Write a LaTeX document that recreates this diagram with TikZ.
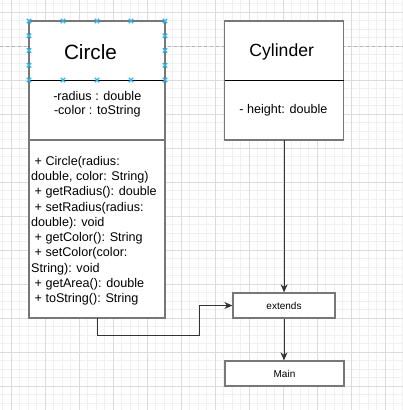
\documentclass[tikz,border=0pt]{standalone}
\usepackage{fontspec}
\setmainfont{Liberation Sans}
\usetikzlibrary{arrows.meta}

\definecolor{gridMinor}{HTML}{F0F0F0}
\definecolor{gridMajor}{HTML}{DCDCDC}
\definecolor{pageBreak}{HTML}{B4B4B4}
\definecolor{outlineGray}{HTML}{777777}
\definecolor{handleBlue}{HTML}{29B6F2}

\newcommand{\pub}{\hspace*{.28em}+ }

\begin{document}
\begin{tikzpicture}[
    x=1pt, y=-1pt,
    minorLine/.style={draw=gridMinor, line width=0.8pt},
    majorLine/.style={draw=gridMajor, line width=0.8pt},
    pageLine/.style={draw=pageBreak, line width=1pt, dash pattern=on 3pt off 3pt},
    classBox/.style={draw=outlineGray, line width=1.6pt, fill=white, outer sep=0pt},
    flowBox/.style={draw=outlineGray, line width=1.3pt, fill=white, minimum height=25pt,
        font=\fontsize{10}{12}\selectfont},
    sepLine/.style={draw=black, line width=0.9pt},
    titleText/.style={inner sep=0pt, anchor=base},
    memberText/.style={inner sep=0pt, font=\fontsize{12.6}{15.3}\selectfont},
    handle/.style={draw=handleBlue, line width=1.2pt},
    link/.style={draw=black!80, line width=1pt, ->, >={Stealth[length=8pt, width=7pt, inset=2.5pt]}},
    every node/.style={
        text centered,
        }
        ]
    \useasboundingbox (0,0) rectangle (403,410);

    % background grid
    \foreach \i in {0,...,47} {
        \draw[minorLine] (2.8+8.5*\i,0) -- ++(0,410);
        \draw[minorLine] (0,3.8+8.5*\i) -- ++(403,0);
    }
    \foreach \i in {0,...,11} {
        \draw[majorLine] (11.3+34*\i,0) -- ++(0,410);
        \draw[majorLine] (0,12.3+34*\i) -- ++(403,0);
    }
    \draw[pageLine] (0,46) -- (403,46);

    % Circle
    \node[classBox, minimum width=136pt, minimum height=119pt] (circle) at (97,80.5) {};
    \node[classBox, minimum width=136pt, minimum height=178pt, anchor=north] (circleMethods) at (circle.south) {};
    \draw[sepLine] ([yshift=-59pt]circle.north west) -- ([yshift=-59pt]circle.north east);

    \node[titleText, font=\fontsize{20.7}{24}\selectfont] (circleName) at (90.5,59.2) {Circle};
    \node[memberText, font=\fontsize{12.6}{14.5}\selectfont, align=center, anchor=north] (circleFields) at (97.3,90.9)
        {-radius : double\\-color : toString};
    \node[memberText, align=left, anchor=north west] (circleOps) at (31,155.8)
        {\pub Circle(radius:\\double, color: String)\\\pub getRadius(): double\\\pub setRadius(radius:\\double): void\\%
         \pub getColor(): String\\\pub setColor(color:\\String): void\\\pub getArea(): double\\\pub toString(): String};

    \foreach \hx in {29,63,97,131,165} {
        \foreach \hy in {21,80}
            \draw[handle] (\hx,\hy) ++(-2.2,-2.2) -- ++(4.4,4.4) (\hx,\hy) ++(-2.2,2.2) -- ++(4.4,-4.4);
    }
    \foreach \hx in {29,165} {
        \foreach \hy in {35.75,50.5,65.25}
            \draw[handle] (\hx,\hy) ++(-2.2,-2.2) -- ++(4.4,4.4) (\hx,\hy) ++(-2.2,2.2) -- ++(4.4,-4.4);
    }

    % Cylinder
    \node[classBox, minimum width=119pt, minimum height=119pt] (cylinder) at (284.1,80.5) {};
    \draw[sepLine] ([yshift=-59pt]cylinder.north west) -- ([yshift=-59pt]cylinder.north east);
    \node[titleText, font=\fontsize{17.6}{20}\selectfont] (cylinderName) at (281.7,56.6) {Cylinder};
    \node[memberText] (cylinderFields) at (283.5,110) {- height: double};

    \node[flowBox, minimum width=102pt] (extends) at (284,305.5) {extends};
    \node[flowBox, minimum width=119pt] (main) at (284.5,373.5) {Main};

    \coordinate (turn) at (199,335);
    \draw[link] (circleMethods.south) |- (turn) |- (extends.west);
    \draw[link] (cylinder.south) -- (cylinder.south |- extends.north);
    \draw[link] (extends.south) -- (extends.south |- main.north);
\end{tikzpicture}
\end{document}
